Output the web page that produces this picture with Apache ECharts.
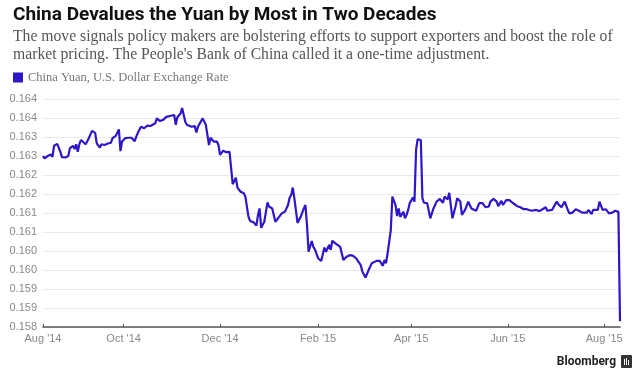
<!DOCTYPE html>
<html>
<head>
<meta charset="utf-8">
<script src="https://cdn.jsdelivr.net/npm/echarts@6/dist/echarts.min.js"></script>
<style>
html,body{margin:0;padding:0;background:#fff;}
#chart{width:640px;height:380px;}
</style>
</head>
<body>
<div id="chart"></div>
<script>
// ---- data ----
const seriesName = 'China Yuan, U.S. Dollar Exchange Rate';
const startDate = '2014-08-11';
const endDate = '2015-08-11';
// days since startDate
const dayOffsets = [0,1,3,5,6,7,9,10,11,12,14,16,17,19,20,21,22,23,24,25,27,29,31,33,34,36,37,39,41,43,44,46,48,49,50,52,54,56,58,59,60,62,64,66,68,71,72,74,76,78,81,83,84,85,87,88,90,91,92,94,96,97,98,101,103,105,106,108,110,111,112,114,116,118,119,120,121,122,123,124,125,127,128,130,131,133,135,136,137,138,140,142,143,145,146,147,149,151,153,155,156,157,158,159,161,163,165,166,167,168,170,171,172,174,176,178,179,181,182,183,185,186,188,190,192,194,196,198,199,201,202,204,206,208,209,211,213,215,216,217,218,220,221,223,224,225,226,228,229,230,231,232,234,235,236,237,239,240,241,243,245,247,249,251,253,254,256,257,259,261,262,264,265,267,269,271,274,276,278,280,282,283,285,287,288,290,291,293,295,297,300,302,304,306,309,312,314,316,318,319,322,323,325,326,328,330,332,333,335,337,339,341,344,345,347,348,351,352,354,356,358,360,362,364,365];
const rates = [0.16250,0.16244,0.16250,0.16254,0.16248,0.16277,0.16282,0.16282,0.16261,0.16247,0.16246,0.16250,0.16270,0.16277,0.16268,0.16281,0.16261,0.16281,0.16292,0.16288,0.16281,0.16297,0.16316,0.16311,0.16283,0.16272,0.16281,0.16279,0.16283,0.16285,0.16297,0.16303,0.16320,0.16263,0.16288,0.16297,0.16298,0.16298,0.16289,0.16301,0.16311,0.16327,0.16323,0.16330,0.16329,0.16336,0.16349,0.16342,0.16345,0.16353,0.16356,0.16358,0.16332,0.16352,0.16362,0.16376,0.16340,0.16332,0.16336,0.16327,0.16329,0.16312,0.16327,0.16349,0.16332,0.16279,0.16298,0.16288,0.16288,0.16279,0.16253,0.16264,0.16260,0.16261,0.16218,0.16176,0.16184,0.16193,0.16167,0.16169,0.16156,0.16152,0.16143,0.16090,0.16079,0.16076,0.16067,0.16095,0.16112,0.16061,0.16077,0.16128,0.16117,0.16112,0.16111,0.16077,0.16088,0.16099,0.16103,0.16121,0.16140,0.16147,0.16167,0.16139,0.16074,0.16090,0.16112,0.16121,0.16068,0.15998,0.16026,0.16011,0.16004,0.15981,0.15974,0.16009,0.15998,0.16016,0.16003,0.16027,0.16020,0.16016,0.16011,0.15976,0.15985,0.15989,0.15988,0.15981,0.15981,0.15963,0.15946,0.15930,0.15950,0.15968,0.15968,0.15974,0.15974,0.15961,0.15976,0.15968,0.15994,0.16055,0.16143,0.16121,0.16092,0.16112,0.16090,0.16103,0.16086,0.16095,0.16108,0.16126,0.16141,0.16130,0.16266,0.16294,0.16292,0.16139,0.16127,0.16126,0.16086,0.16112,0.16130,0.16137,0.16127,0.16143,0.16136,0.16153,0.16086,0.16118,0.16139,0.16130,0.16095,0.16108,0.16130,0.16112,0.16106,0.16126,0.16126,0.16115,0.16117,0.16130,0.16137,0.16130,0.16118,0.16132,0.16121,0.16134,0.16134,0.16127,0.16118,0.16115,0.16110,0.16110,0.16106,0.16108,0.16105,0.16110,0.16115,0.16106,0.16108,0.16112,0.16130,0.16123,0.16115,0.16130,0.16108,0.16099,0.16101,0.16110,0.16106,0.16101,0.16101,0.16108,0.16097,0.16108,0.16108,0.16130,0.16108,0.16110,0.16099,0.16101,0.16106,0.16103,0.15815];
const xTickDates = ['2014-08-11','2014-10-01','2014-12-01','2015-02-01','2015-04-01','2015-06-01','2015-08-01'];
const xTickLabels = ["Aug '14","Oct '14","Dec '14","Feb '15","Apr '15","Jun '15","Aug '15"];
const yMin = 0.158, yMax = 0.164, yStep = 0.0005;
const yTickLabels = ['0.158','0.159','0.159','0.160','0.160','0.161','0.161','0.162','0.162','0.163','0.163','0.164','0.164'];

// ---- build ----
const DAY = 86400000;
const startTs = new Date(startDate + 'T00:00:00Z').getTime();
const endTs = new Date(endDate + 'T00:00:00Z').getTime();
const xTickTs = xTickDates.map(d => new Date(d + 'T00:00:00Z').getTime());
const lineData = dayOffsets.map((d, i) => [startTs + d * DAY, rates[i]]);

const chart = echarts.init(document.getElementById('chart'), null, {renderer: 'canvas'});
chart.setOption({
  animation: false,
  backgroundColor: '#ffffff',
  title: {
    text: 'China Devalues the Yuan by Most in Two Decades',
    subtext: 'The move signals policy makers are bolstering efforts to support exporters and boost the role of\nmarket pricing. The People\'s Bank of China called it a one-time adjustment.',
    left: 8, top: 1, itemGap: 3,
    textStyle: {fontFamily: 'Roboto', fontWeight: 'bold', fontSize: 19, color: '#111111'},
    subtextStyle: {fontFamily: 'Liberation Serif', fontSize: 15.7, lineHeight: 18, color: '#555555'}
  },
  legend: {
    data: [seriesName], left: 13, top: 71, padding: 0,
    icon: 'rect', itemWidth: 10, itemHeight: 10,
    textStyle: {fontFamily: 'Liberation Serif', fontSize: 12.5, color: '#777777'}
  },
  grid: {left: 43, right: 20, top: 99, bottom: 53, containLabel: false},
  xAxis: {
    type: 'value', min: startTs, max: endTs,
    axisLine: {lineStyle: {color: '#555555', width: 1.5}},
    axisTick: {show: true, inside: true, length: 3, customValues: xTickTs, lineStyle: {color: '#555555'}},
    axisLabel: {
      customValues: xTickTs, color: '#888888', fontFamily: 'Liberation Sans', fontSize: 11, margin: 6,
      formatter: function (v) {
        let best = 0, bd = Infinity;
        xTickTs.forEach((t, i) => { const dd = Math.abs(t - v); if (dd < bd) { bd = dd; best = i; } });
        return xTickLabels[best];
      }
    },
    splitLine: {show: false}
  },
  yAxis: {
    type: 'value', min: yMin, max: yMax, interval: yStep,
    axisLine: {show: false}, axisTick: {show: false},
    axisLabel: {
      color: '#888888', fontFamily: 'Liberation Sans', fontSize: 11, margin: 6,
      formatter: function (v) { return yTickLabels[Math.round((v - yMin) / yStep)]; }
    },
    splitLine: {lineStyle: {color: '#e8e8e8', width: 1}}
  },
  series: [{
    name: seriesName, type: 'line', data: lineData, showSymbol: false,
    itemStyle: {color: '#2e16c9'},
    lineStyle: {color: '#2e16c9', width: 2.2}
  }],
  graphic: [
    {type: 'text', right: 24, top: 356, style: {text: 'Bloomberg', font: 'bold 12px Roboto', fill: '#222222'}},
    {type: 'group', right: 8, top: 355, children: [
      {type: 'rect', shape: {x: 0, y: 0, width: 11, height: 13, r: 1}, style: {fill: '#333333'}},
      {type: 'rect', shape: {x: 3, y: 4, width: 1, height: 6}, style: {fill: '#ffffff'}},
      {type: 'rect', shape: {x: 5, y: 3, width: 1, height: 7}, style: {fill: '#ffffff'}},
      {type: 'rect', shape: {x: 7, y: 5, width: 1, height: 5}, style: {fill: '#ffffff'}}
    ]}
  ]
});
</script>
</body>
</html>
